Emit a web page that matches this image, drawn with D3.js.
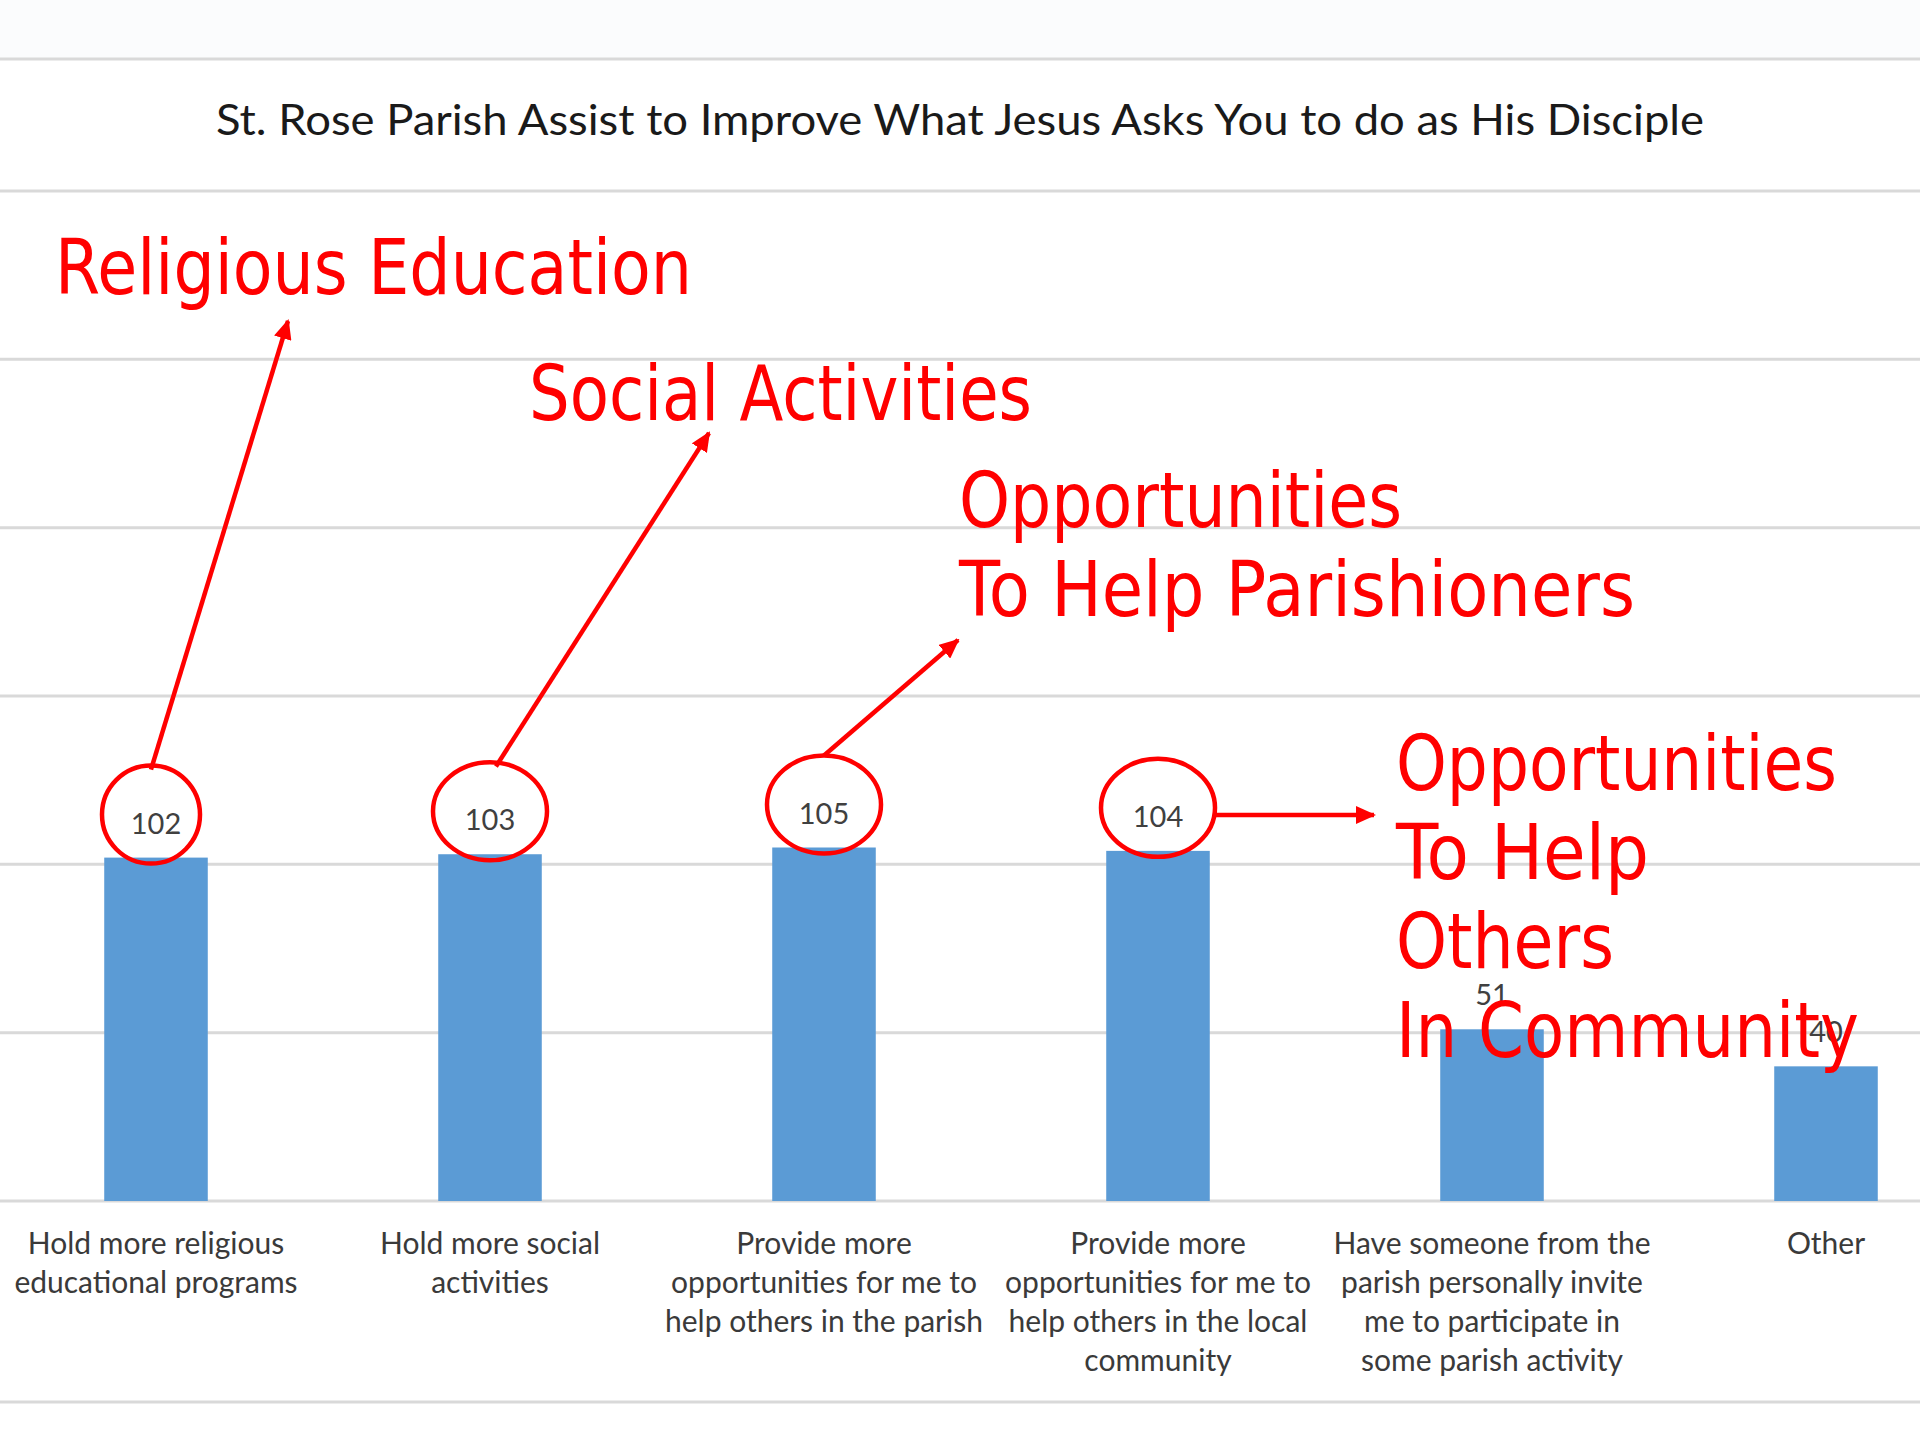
<!DOCTYPE html>
<html>
<head>
<meta charset="utf-8">
<script src="https://cdn.jsdelivr.net/npm/d3@7"></script>
<style>
  body { margin: 0; background: #fff; }
  svg { display: block; }
</style>
</head>
<body>
<svg id="chart" width="1920" height="1440"></svg>
<script>
// data
const categories = [
    ["Hold more religious", "educational programs"],
    ["Hold more social", "activities"],
    ["Provide more", "opportunities for me to", "help others in the parish"],
    ["Provide more", "opportunities for me to", "help others in the local", "community"],
    ["Have someone from the", "parish personally invite", "me to participate in", "some parish activity"],
    ["Other"]
];
const values = [102, 103, 105, 104, 51, 40];
const yTicks = [0, 50, 100, 150, 200, 250, 300];
const title = "St. Rose Parish Assist to Improve What Jesus Asks You to do as His Disciple";

// red call-outs (hand drawn on the slide)
const calloutBars = [0, 1, 2, 3];
const calloutTexts = [
    ["Religious Education"],
    ["Social Activities"],
    ["Opportunities", "To Help Parishioners"],
    ["Opportunities", "To Help", "Others", "In Community"]
];

const W = 1920, H = 1440;
const RED = "#ff0000";
const baseY = 1201, topY = 191;

var svg = d3.select('#chart');

var x = d3.scaleBand()
    .domain(d3.range(values.length))
    .range([-11, 1993])
    .paddingInner(0.69)
    .paddingOuter(0.345);

var y = d3.scaleLinear()
    .domain([0, 300])
    .range([baseY, topY]);

function plotFrame(g) {
    g.append('rect').attr('width', W).attr('height', 59).attr('fill', '#fbfcfd');
    // gridlines
    g.append('g')
        .selectAll('line')
        .data(yTicks)
        .enter().append('line')
        .attr('x1', 0).attr('x2', W)
        .attr('y1', d => y(d)).attr('y2', d => y(d))
        .attr('stroke', '#d9d9d9')
        .attr('stroke-width', 3);
    // outer borders of the chart box
    [59, 1402].forEach(yy => {
        g.append('line')
            .attr('x1', 0).attr('x2', W)
            .attr('y1', yy).attr('y2', yy)
            .attr('stroke', '#d9d9d9')
            .attr('stroke-width', 3);
    });
    g.append('text')
        .attr('x', W / 2)
        .attr('y', 135)
        .attr('text-anchor', 'middle')
        .attr('textLength', 1488)
        .attr('lengthAdjust', 'spacingAndGlyphs')
        .style('font-family', 'Lato, "Open Sans", sans-serif')
        .style('font-size', '42px')
        .style('fill', '#1a1a1a')
        .text(title);
}

function plotBars(g) {
    g.append('g')
        .selectAll('rect')
        .data(values)
        .enter().append('rect')
        .attr('x', (d, i) => x(i))
        .attr('y', d => y(d))
        .attr('width', x.bandwidth())
        .attr('height', d => baseY - y(d))
        .attr('fill', '#5b9bd5');

    // value labels
    g.append('g')
        .selectAll('text')
        .data(values)
        .enter().append('text')
        .attr('x', (d, i) => x(i) + x.bandwidth() / 2)
        .attr('y', d => y(d) - 24)
        .attr('text-anchor', 'middle')
        .style('font-family', 'Lato, "Open Sans", sans-serif')
        .style('font-size', '29px')
        .style('fill', '#404040')
        .text(d => d);

    // category labels
    let cats = g.append('g')
        .selectAll('text')
        .data(categories)
        .enter().append('text')
        .attr('text-anchor', 'middle')
        .style('font-family', 'Lato, "Open Sans", sans-serif')
        .style('font-size', '30px')
        .style('fill', '#3a3a3a');
    cats.selectAll('tspan')
        .data((d, i) => d.map(t => ({ t: t, i: i })))
        .enter().append('tspan')
        .attr('x', d => x(d.i) + x.bandwidth() / 2)
        .attr('y', (d, j) => 1254 + j * 39)
        .text(d => d.t);
}

function plotCallouts(g) {
    let defs = svg.append('defs');
    defs.append('marker')
        .attr('id', 'head')
        .attr('markerUnits', 'userSpaceOnUse')
        .attr('viewBox', '0 0 20 18')
        .attr('refX', 18).attr('refY', 9)
        .attr('markerWidth', 20).attr('markerHeight', 18)
        .attr('orient', 'auto')
        .append('path')
        .attr('d', 'M0,0 L20,9 L0,18 Z')
        .attr('fill', RED);

    let rx = [49, 57, 57, 57], ry = 49;
    let startAngle = [-90, -84, -90, 7];
    let tips = [[288, 321], [709, 433], [958, 640], [1374, 815]];

    calloutBars.forEach((b, k) => {
        let cx = x(b) + x.bandwidth() / 2 - (k === 0 ? 5 : 0);
        let cy = y(values[b]) - 43;
        g.append('ellipse')
            .attr('cx', cx).attr('cy', cy)
            .attr('rx', rx[k]).attr('ry', ry)
            .attr('fill', 'none')
            .attr('stroke', RED)
            .attr('stroke-width', 4.5);
        let a = startAngle[k] * Math.PI / 180;
        let y1 = k === 3 ? tips[k][1] : cy + ry * Math.sin(a) + (k < 2 ? 4 : 0);
        g.append('line')
            .attr('x1', cx + rx[k] * Math.cos(a))
            .attr('y1', y1)
            .attr('x2', tips[k][0]).attr('y2', tips[k][1])
            .attr('stroke', RED)
            .attr('stroke-width', 4.5)
            .attr('marker-end', 'url(#head)');
    });

    // left/baseline of each block, and the width of each line
    let textPos = [[55, 294], [529, 420], [959, 527], [1396, 790]];
    let lineW = [[637], [503], [443, 676], [441, 253, 218, 463]];
    calloutTexts.forEach((lines, k) => {
        let t = g.append('g')
            .attr('transform', 'translate(' + textPos[k][0] + ',' + textPos[k][1] + ')');
        lines.forEach((l, j) => {
            t.append('text')
                .attr('x', 0).attr('y', j * 89)
                .attr('textLength', lineW[k][j])
                .attr('lengthAdjust', 'spacingAndGlyphs')
                .style('font-family', '"DejaVu Sans", sans-serif')
                .style('font-size', '76px')
                .style('fill', RED)
                .text(l);
        });
    });
}

plotFrame(svg.append('g'));
plotBars(svg.append('g'));
plotCallouts(svg.append('g'));
</script>
</body>
</html>
